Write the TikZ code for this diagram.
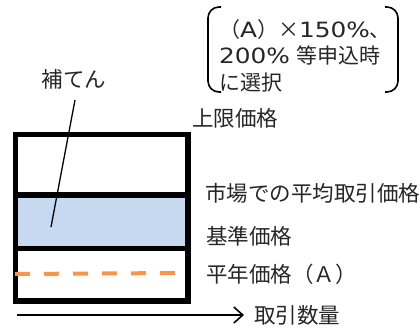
\documentclass[tikz,border=0pt]{standalone}
\usepackage{fontspec}
\setmainfont{Noto Sans CJK JP}
\newfontfamily\latw[FakeStretch=1.18]{DejaVu Sans}
\usetikzlibrary{arrows.meta}
\definecolor{bandblue}{HTML}{C6D9F1}
\definecolor{dashorange}{HTML}{F79646}
\definecolor{txt}{HTML}{262626}
\tikzset{
  lbl/.style={anchor=west, inner sep=0pt, text=txt, font=\fontsize{21.5}{24}\selectfont},
  frame/.style={line width=5.5pt, line cap=rect},
  leader/.style={line width=1.3pt},
  brk/.style={line width=1.6pt, rounded corners=11pt}
}
\begin{document}
\begin{tikzpicture}[x=1pt,y=-1pt]
\useasboundingbox (0,0) rectangle (420,327);
% blue band
\fill[bandblue] (15.5,195) rectangle (188,248.5);
% frame
\draw[frame] (15.5,134.5) rectangle (188,301);
\draw[frame] (15.5,195) -- (188,195);
\draw[frame] (15.5,248.5) -- (188,248.5);
% dashed line
\draw[dashorange, line width=4pt, dash pattern=on 15pt off 14pt] (15,274) -- (178,273);
% labels
\node[lbl] (upper) at (192,118) {上限価格};
\node[lbl] (market) at (205,193) {市場での平均取引価格};
\node[lbl] (base) at (206,236) {基準価格};
\node[lbl] (normal) at (206,274) {平年価格（Ａ）};
\node[lbl] (qty) at (254,315) {取引数量};
\node[lbl, anchor=center] (hoten) at (74,79) {補てん};
\node[lbl, align=left, font=\fontsize{21}{26.5}\selectfont] (note) at (219,55.5) {（{\latw A}）×{\latw 150\%}、\\{\latw 200\%}\hspace{6pt}等申込時\\に選択};
% leader
\coordinate (hotenEnd) at (51,227);
\coordinate (hotenStart) at (75,100);
\draw[leader] (hotenStart) -- (hotenEnd);
% axis arrow
\coordinate (axisStart) at (17,315);
\coordinate (axisEnd) at (244,315);
\draw[line width=1.6pt, -{Straight Barb[length=9pt,width=16pt,line width=1.6pt]}] (axisStart) -- (axisEnd);
% brackets
\draw[brk] (221,7) -- (208,7) -- (208,92) -- (221,92);
\draw[brk] (385,7) -- (398,7) -- (398,92) -- (385,92);
\end{tikzpicture}
\end{document}
